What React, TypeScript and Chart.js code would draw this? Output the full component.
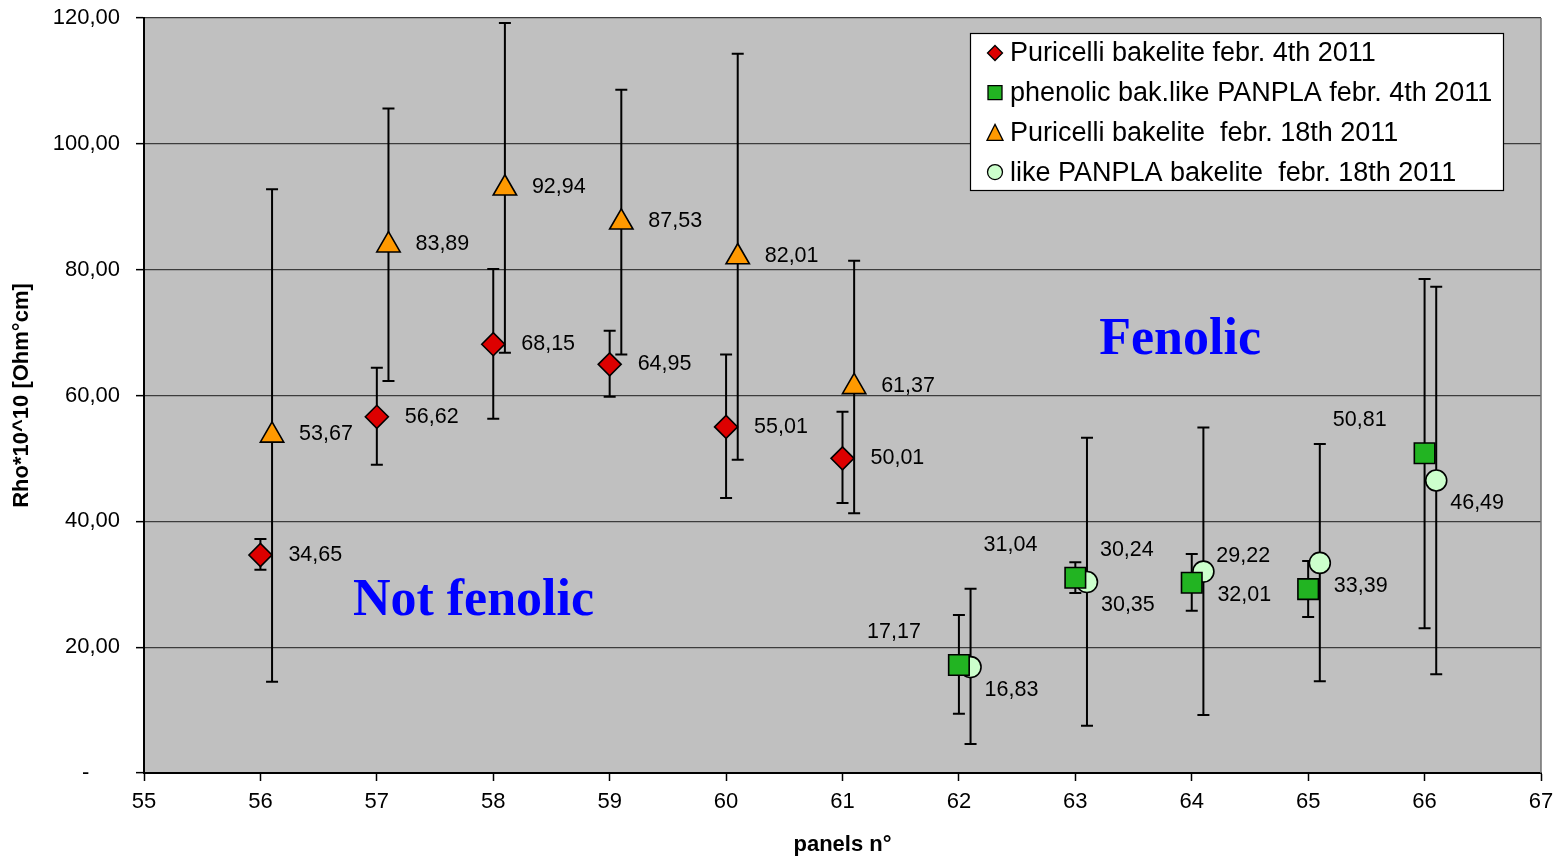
import React, { useEffect, useRef } from 'react';
import { Chart, registerables } from 'chart.js';

Chart.register(...registerables);

// ---------- data ----------
const X_MIN = 55;
const X_MAX = 67;
const Y_MIN = 0;
const Y_MAX = 120;
const Y_STEP = 20;

const SERIES_LABELS = [
  'Puricelli bakelite febr. 4th 2011',
  'phenolic bak.like PANPLA febr. 4th 2011',
  'Puricelli bakelite  febr. 18th 2011',
  'like PANPLA bakelite  febr. 18th 2011',
];

const puricelliFeb4X = [56, 57, 58, 59, 60, 61];
const puricelliFeb4Y = [34.65, 56.62, 68.15, 64.95, 55.01, 50.01];
const puricelliFeb4Low = [32.3, 49.0, 56.3, 59.8, 43.7, 42.9];
const puricelliFeb4High = [37.2, 64.4, 80.1, 70.3, 66.5, 57.4];

const panplaFeb4X = [62, 63, 64, 65, 66];
const panplaFeb4Y = [17.17, 31.04, 30.24, 29.22, 50.81];
const panplaFeb4Low = [9.4, 28.6, 25.8, 24.8, 23.0];
const panplaFeb4High = [25.1, 33.5, 34.8, 33.7, 78.5];

const puricelliFeb18X = [56.1, 57.1, 58.1, 59.1, 60.1, 61.1];
const puricelliFeb18Y = [53.67, 83.89, 92.94, 87.53, 82.01, 61.37];
const puricelliFeb18Low = [14.5, 62.3, 66.8, 66.5, 49.8, 41.3];
const puricelliFeb18High = [92.8, 105.6, 119.2, 108.6, 114.3, 81.4];

const panplaFeb18X = [62.1, 63.1, 64.1, 65.1, 66.1];
const panplaFeb18Y = [16.83, 30.35, 32.01, 33.39, 46.49];
const panplaFeb18Low = [4.6, 7.5, 9.2, 14.6, 15.7];
const panplaFeb18High = [29.3, 53.3, 54.9, 52.3, 77.3];

const ANNOTATIONS = [
  { text: 'Fenolic', x: 63.9, y: 68.8 },
  { text: 'Not fenolic', x: 57.83, y: 27.3 },
];

// ---------- styles ----------
const SANS = '"Liberation Sans", Arial, sans-serif';
const SERIF = '"Liberation Serif", "Times New Roman", serif';
const PLOT_BG = '#c0c0c0';
const GRID = '#3c3c3c';

const STYLES = [
  { style: 'rectRot', radius: 11.5, fill: '#dd0000', dx: 28, dy: 0, align: 'left' },
  { style: 'rect', radius: 14.5, fill: '#22b422', dx: -38, dy: -33, align: 'right' },
  { style: 'triangle', radius: 13.5, fill: '#ff9900', dx: 27, dy: -1, align: 'left' },
  { style: 'circle', radius: 10.5, fill: '#ccffcc', dx: 14, dy: 23, align: 'left' },
];

const SERIES = [
  { xs: puricelliFeb4X, ys: puricelliFeb4Y, lo: puricelliFeb4Low, hi: puricelliFeb4High },
  { xs: panplaFeb4X, ys: panplaFeb4Y, lo: panplaFeb4Low, hi: panplaFeb4High },
  { xs: puricelliFeb18X, ys: puricelliFeb18Y, lo: puricelliFeb18Low, hi: puricelliFeb18High },
  { xs: panplaFeb18X, ys: panplaFeb18Y, lo: panplaFeb18Low, hi: panplaFeb18High },
];

const fmt = (v: number) => v.toFixed(2).replace('.', ',');

function drawMarker(ctx: CanvasRenderingContext2D, kind: string, x: number, y: number, r: number) {
  ctx.beginPath();
  if (kind === 'rectRot') {
    ctx.moveTo(x, y - r);
    ctx.lineTo(x + r, y);
    ctx.lineTo(x, y + r);
    ctx.lineTo(x - r, y);
    ctx.closePath();
  } else if (kind === 'rect') {
    ctx.rect(x - r, y - r, 2 * r, 2 * r);
  } else if (kind === 'triangle') {
    ctx.moveTo(x, y - r);
    ctx.lineTo(x + r, y + r);
    ctx.lineTo(x - r, y + r);
    ctx.closePath();
  } else {
    ctx.arc(x, y, r, 0, Math.PI * 2);
  }
  ctx.fill();
  ctx.stroke();
}

const bgPlugin = {
  id: 'plotBg',
  beforeDraw(chart: any) {
    const { ctx, chartArea: a } = chart;
    ctx.save();
    ctx.fillStyle = PLOT_BG;
    ctx.fillRect(a.left, a.top, a.right - a.left, a.bottom - a.top);
    ctx.restore();
  },
};

const errorBarPlugin = {
  id: 'errorBars',
  beforeDatasetsDraw(chart: any) {
    const { ctx, chartArea: a } = chart;
    const xs = chart.scales.x;
    const ys = chart.scales.y;
    ctx.save();
    // right frame line
    ctx.strokeStyle = '#707070';
    ctx.lineWidth = 1.5;
    ctx.beginPath();
    ctx.moveTo(a.right, a.top);
    ctx.lineTo(a.right, a.bottom);
    ctx.stroke();

    ctx.strokeStyle = '#000';
    ctx.lineWidth = 2;
    SERIES.forEach((s) => {
      s.xs.forEach((xv, i) => {
        const px = xs.getPixelForValue(xv);
        const top = ys.getPixelForValue(s.hi[i]);
        const bot = ys.getPixelForValue(s.lo[i]);
        ctx.beginPath();
        ctx.moveTo(px, top);
        ctx.lineTo(px, bot);
        ctx.moveTo(px - 6, top);
        ctx.lineTo(px + 6, top);
        ctx.moveTo(px - 6, bot);
        ctx.lineTo(px + 6, bot);
        ctx.stroke();
      });
    });
    ctx.restore();
  },
};

const labelPlugin = {
  id: 'valueLabels',
  afterDatasetsDraw(chart: any) {
    const { ctx } = chart;
    const xs = chart.scales.x;
    const ys = chart.scales.y;
    ctx.save();
    ctx.fillStyle = '#000';
    ctx.font = `21.5px ${SANS}`;
    ctx.textBaseline = 'middle';
    SERIES.forEach((s, k) => {
      const st = STYLES[k];
      ctx.textAlign = st.align as CanvasTextAlign;
      s.xs.forEach((xv, i) => {
        const px = xs.getPixelForValue(xv);
        const py = ys.getPixelForValue(s.ys[i]);
        ctx.fillText(fmt(s.ys[i]), px + st.dx, py + st.dy);
      });
    });
    ctx.font = `bold 52px ${SERIF}`;
    ctx.fillStyle = '#0000ff';
    ctx.textAlign = 'center';
    ANNOTATIONS.forEach((an) => {
      ctx.fillText(an.text, xs.getPixelForValue(an.x), ys.getPixelForValue(an.y));
    });
    ctx.restore();
  },
};

const legendPlugin = {
  id: 'boxLegend',
  afterDraw(chart: any) {
    const { ctx } = chart;
    const left = 970;
    const top = 33;
    const w = 533;
    const h = 157;
    ctx.save();
    ctx.fillStyle = '#fff';
    ctx.fillRect(left, top, w, h);
    ctx.strokeStyle = '#000';
    ctx.lineWidth = 1.2;
    ctx.strokeRect(left + 0.5, top + 0.5, w, h);
    ctx.font = `27px ${SANS}`;
    ctx.textBaseline = 'middle';
    ctx.textAlign = 'left';
    SERIES_LABELS.forEach((lbl, k) => {
      const cy = top + 20 + k * 39.7;
      const st = STYLES[k];
      ctx.fillStyle = st.fill;
      ctx.strokeStyle = '#000';
      ctx.lineWidth = 1.3;
      const r = st.style === 'rect' ? 7 : st.style === 'triangle' ? 8 : 7.5;
      drawMarker(ctx, st.style, 995, cy, r);
      ctx.fillStyle = '#000';
      ctx.fillText(lbl, 1010, cy + 1);
    });
    ctx.restore();
  },
};

export default function App() {
  const ref = useRef<HTMLCanvasElement | null>(null);

  useEffect(() => {
    if (!ref.current) return;
    const datasets = SERIES.map((s, k) => ({
      label: SERIES_LABELS[k],
      data: s.xs.map((x, i) => ({ x, y: s.ys[i] })),
      showLine: false,
      pointStyle: STYLES[k].style,
      pointRadius: STYLES[k].radius,
      pointHoverRadius: STYLES[k].radius,
      pointBackgroundColor: STYLES[k].fill,
      pointBorderColor: '#000',
      pointBorderWidth: 1.6,
    }));

    const chart = new Chart(ref.current, {
      type: 'scatter',
      data: { datasets } as any,
      options: {
        animation: false,
        responsive: false,
        devicePixelRatio: 1,
        layout: { padding: { left: 0, right: 19, top: 18, bottom: 0 } },
        plugins: {
          legend: { display: false },
          tooltip: { enabled: false },
        },
        scales: {
          x: {
            type: 'linear',
            min: X_MIN,
            max: X_MAX,
            afterFit: (s: any) => {
              s.height = 83;
              s.paddingLeft = 0;
              s.paddingRight = 0;
            },
            ticks: {
              stepSize: 1,
              padding: 8,
              color: '#000',
              font: { family: SANS, size: 22 },
            },
            grid: {
              drawOnChartArea: false,
              drawTicks: true,
              tickLength: 8,
              tickColor: '#000',
              tickWidth: 1.5,
            },
            border: { color: '#000', width: 2 },
            title: {
              display: true,
              text: 'panels n°',
              color: '#000',
              font: { family: SANS, size: 22, weight: 'bold', lineHeight: 1 },
              padding: { top: 0, bottom: 0 },
            },
          },
          y: {
            type: 'linear',
            min: Y_MIN,
            max: Y_MAX,
            afterFit: (s: any) => {
              s.width = 144;
              s.paddingTop = 0;
              s.paddingBottom = 0;
            },
            ticks: {
              stepSize: Y_STEP,
              padding: 16,
              color: '#000',
              font: { family: SANS, size: 22 },
              callback: (v: any) => (Number(v) === 0 ? '-     ' : fmt(Number(v))),
            },
            grid: {
              color: GRID,
              lineWidth: 1.3,
              drawTicks: true,
              tickLength: 8,
              tickColor: '#000',
              tickWidth: 1.5,
            },
            border: { color: '#000', width: 2 },
            title: {
              display: true,
              text: 'Rho*10^10 [Ohm°cm]',
              color: '#000',
              font: { family: SANS, size: 22, weight: 'bold', lineHeight: 1.2 },
              padding: { top: 9, bottom: 0 },
            },
          },
        },
      } as any,
      plugins: [bgPlugin, errorBarPlugin, labelPlugin, legendPlugin],
    });
    return () => chart.destroy();
  }, []);

  return (
    <div style={{ position: 'absolute', left: 0, top: 0, width: 1560, height: 856, background: '#fff' }}>
      <canvas ref={ref} width={1560} height={856} style={{ display: 'block', width: 1560, height: 856 }} />
    </div>
  );
}
